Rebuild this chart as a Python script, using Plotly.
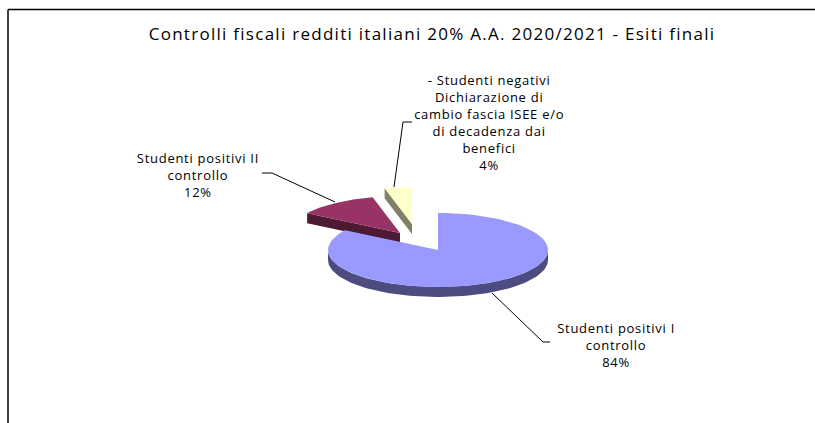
import numpy as np
import plotly.graph_objects as go

# ---- data -------------------------------------------------------------
categories = [
    "Studenti positivi I<br>controllo",
    "Studenti positivi II<br>controllo",
    "- Studenti negativi<br>Dichiarazione di<br>cambio fascia ISEE e/o<br>di decadenza dai<br>benefici",
]
shares = [84, 12, 4]
title_text = "Controlli fiscali redditi italiani 20% A.A. 2020/2021 - Esiti finali"

# ---- styling ----------------------------------------------------------
W, H = 815, 423
CX, CY = 438, 250          # centre of the pie top face (pixel space)
RX, RY = 110, 37           # ellipse radii of the tilted pie
DEPTH = 10                 # thickness of the pie
top_colors = ["#9999FF", "#993366", "#FFFFCC"]
side_colors = ["#4C4C80", "#4D1A33", "#808066"]
explode = [(0, 0), (-38, -17), (-26, -26)]   # pixel shift of each slice
FONT = "'Open Sans', sans-serif"
TITLE_SIZE, LABEL_SIZE = 17, 13

label_pos = [(616, 345), (198, 175), (489, 122)]
leaders = [
    [(492, 293), (543, 342), (550, 342)],
    [(335, 202), (272, 173), (262, 173)],
    [(394, 187), (403, 122), (412, 122)],
]


def rim(theta, dx, dy, dz=0.0):
    return (CX + dx + RX * np.sin(theta), CY + dy - RY * np.cos(theta) + dz)


def arc(t0, t1, dx, dy, dz=0.0, n=80):
    ts = np.linspace(t0, t1, n)
    xs, ys = rim(ts, dx, dy, dz)
    return list(xs), list(ys)


fig = go.Figure()


def poly(xs, ys, color):
    fig.add_trace(go.Scatter(
        x=xs + [xs[0]], y=ys + [ys[0]], mode="lines", fill="toself",
        fillcolor=color, line=dict(width=0, color=color),
        hoverinfo="skip", showlegend=False))


# slice angles, clockwise from 12 o'clock
total = sum(shares)
bounds = np.cumsum([0] + shares) / total * 2 * np.pi
slices = list(range(len(shares)))

for i in reversed(slices):
    t0, t1 = bounds[i], bounds[i + 1]
    dx, dy = explode[i]
    ax, ay = CX + dx, CY + dy
    # cut face at the start angle
    if np.sin(t0) < -1e-6:
        rx0, ry0 = rim(t0, dx, dy)
        poly([ax, rx0, rx0, ax], [ay, ry0, ry0 + DEPTH, ay + DEPTH], side_colors[i])
    # cut face at the end angle
    if np.sin(t1) > 1e-6:
        rx1, ry1 = rim(t1, dx, dy)
        poly([ax, rx1, rx1, ax], [ay, ry1, ry1 + DEPTH, ay + DEPTH], side_colors[i])
    # front part of the outer wall
    a, b = max(t0, np.pi / 2), min(t1, 3 * np.pi / 2)
    if b > a:
        ux, uy = arc(a, b, dx, dy)
        lx, ly = arc(b, a, dx, dy, DEPTH)
        poly(ux + lx, uy + ly, side_colors[i])
    # top face
    tx, ty = arc(t0, t1, dx, dy)
    poly([ax] + tx, [ay] + ty, top_colors[i])

# leader lines
for pts in leaders:
    fig.add_trace(go.Scatter(
        x=[p[0] for p in pts], y=[p[1] for p in pts], mode="lines",
        line=dict(color="#000000", width=1), hoverinfo="skip", showlegend=False))

# data labels
for i in slices:
    fig.add_annotation(
        x=label_pos[i][0], y=label_pos[i][1], xref="x", yref="y",
        text=f"{categories[i]}<br>{shares[i]}%", showarrow=False,
        font=dict(family=FONT, size=LABEL_SIZE, color="#000000"), align="center")

# title
fig.add_annotation(
    x=432, y=33, xref="x", yref="y", text=title_text, showarrow=False,
    font=dict(family=FONT, size=TITLE_SIZE, color="#000000"))

# chart area frame (extends past the window on the right and bottom)
fig.add_shape(type="line", x0=8, y0=9.5, x1=W + 5, y1=9.5, xref="x", yref="y",
              line=dict(color="#000000", width=1.5))
fig.add_shape(type="line", x0=8, y0=9.5, x1=8, y1=H + 5, xref="x", yref="y",
              line=dict(color="#000000", width=1.5))

fig.update_layout(
    width=W, height=H, margin=dict(l=0, r=0, t=0, b=0),
    paper_bgcolor="#FFFFFF", plot_bgcolor="#FFFFFF",
    xaxis=dict(range=[0, W], visible=False, fixedrange=True),
    yaxis=dict(range=[H, 0], visible=False, fixedrange=True),
)

# slightly open letter spacing on the annotation texts
spacing_js = """
var gd = document.getElementById('{plot_id}');
function openSpacing() {
    gd.querySelectorAll('.annotation-text').forEach(function (t) {
        var big = parseFloat(t.style.fontSize) >= %d;
        t.style.letterSpacing = big ? '0.075em' : '0.055em';
    });
}
openSpacing();
gd.on('plotly_afterplot', openSpacing);
""" % TITLE_SIZE

fig.write_html("out.html", post_script=spacing_js)
